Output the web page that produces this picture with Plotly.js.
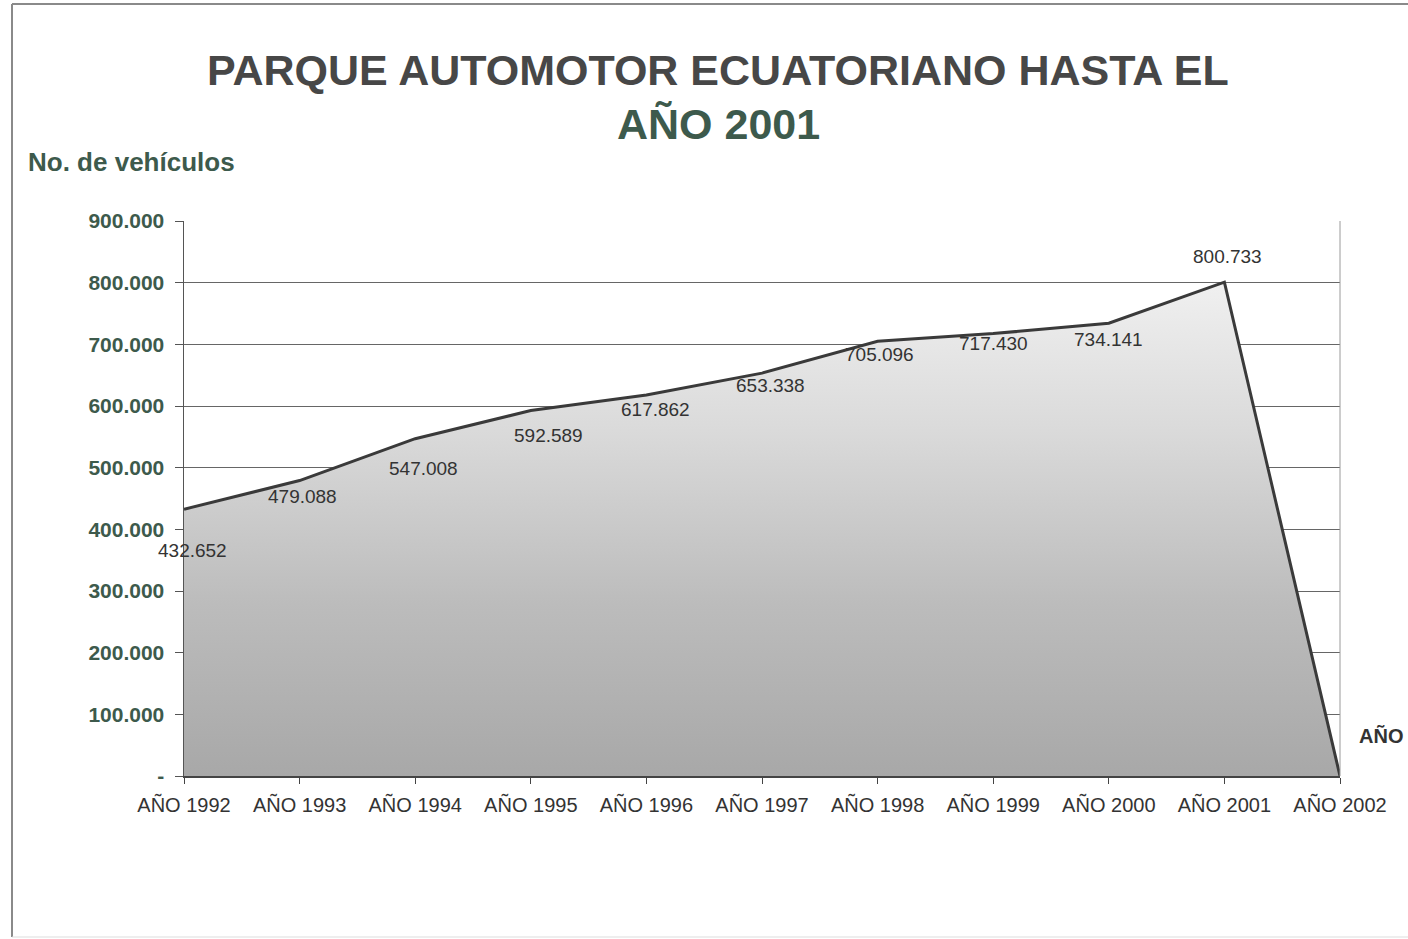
<!DOCTYPE html>
<html>
<head>
<meta charset="utf-8">
<script src="https://cdn.plot.ly/plotly-3.0.1.min.js"></script>
<style>html,body{margin:0;padding:0;background:#fff;}#chart{width:1408px;height:939px;}</style>
</head>
<body>
<div id="chart"></div>
<script>
// Data
const categories = ["AÑO 1992","AÑO 1993","AÑO 1994","AÑO 1995","AÑO 1996","AÑO 1997","AÑO 1998","AÑO 1999","AÑO 2000","AÑO 2001","AÑO 2002"];
const vehicles = [432652, 479088, 547008, 592589, 617862, 653338, 705096, 717430, 734141, 800733, 0];
const valueLabels = ["432.652","479.088","547.008","592.589","617.862","653.338","705.096","717.430","734.141","800.733",""];
const yTickVals = [0,100000,200000,300000,400000,500000,600000,700000,800000,900000];
const yTickText = ["-","100.000","200.000","300.000","400.000","500.000","600.000","700.000","800.000","900.000"];

// Label offsets (style only)
const labelShiftY = [-41,-16,-30,-25,-15,-12,-13,-10,-16,26,0];
const labelShiftX = [8,3,8,18,9,8,2,0,0,3,0];

const trace = {
  type: 'scatter',
  mode: 'lines',
  x: categories,
  y: vehicles,
  fill: 'tozeroy',
  fillgradient: {
    type: 'vertical',
    colorscale: [[0,'#a8a8a8'],[0.35,'#bcbcbc'],[0.7,'#dadada'],[1,'#f0f0f0']]
  },
  line: {color: '#3a3a3a', width: 3},
  hoverinfo: 'skip'
};

const FONT = 'Liberation Sans, Arial, sans-serif';
const annotations = [];
categories.forEach((c,i)=>{
  if (!valueLabels[i]) return;
  annotations.push({
    x: c, y: vehicles[i], xref:'x', yref:'y',
    text: valueLabels[i], showarrow:false,
    xanchor:'center', yanchor:'middle',
    xshift: labelShiftX[i], yshift: labelShiftY[i],
    font:{family:FONT, size:19, color:'#333333'}
  });
});
annotations.push({
  xref:'paper', yref:'paper', x:(26-184)/1156, y:(776-162)/555,
  xanchor:'left', yanchor:'middle', showarrow:false,
  text:'<b>No. de vehículos</b>',
  font:{family:FONT, size:26, color:'#3d5a4c'}
});
annotations.push({
  xref:'paper', yref:'paper', x:(1357-184)/1156, y:(776-736)/555,
  xanchor:'left', yanchor:'middle', showarrow:false,
  text:'<b>AÑO</b>',
  font:{family:FONT, size:20, color:'#333333'}
});
annotations.push({
  xref:'paper', yref:'paper', x:(718-184)/1156, y:(776-70)/555,
  xanchor:'center', yanchor:'middle', showarrow:false,
  text:'<b>PARQUE AUTOMOTOR ECUATORIANO HASTA EL</b>',
  font:{family:FONT, size:43, color:'#474747'}
});
annotations.push({
  xref:'paper', yref:'paper', x:(718-184)/1156, y:(776-124)/555,
  xanchor:'center', yanchor:'middle', showarrow:false,
  text:'<b>AÑO 2001</b>',
  font:{family:FONT, size:43, color:'#3d5a4c'}
});

const layout = {
  width: 1408, height: 939,
  margin: {l:184, r:68, t:221, b:163},
  paper_bgcolor: '#ffffff',
  plot_bgcolor: '#ffffff',
  showlegend: false,
  xaxis: {
    type: 'category',
    range: [0, 10],
    showgrid: false,
    showline: true, linecolor: '#444444', linewidth: 2,
    ticks: 'outside', ticklen: 6, tickcolor: '#444444', tickwidth: 1,
    ticklabelstandoff: 4,
    tickfont: {family:FONT, size:20, color:'#333333'},
    zeroline: false,
    fixedrange: true
  },
  yaxis: {
    range: [0, 900000],
    tickvals: yTickVals, ticktext: yTickText,
    showgrid: true, gridcolor: '#666666', gridwidth: 1,
    showline: true, linecolor: '#555555', linewidth: 1.5, mirror: false,
    ticks: 'outside', ticklen: 8, tickcolor: '#555555',
    ticklabelstandoff: 6,
    tickfont: {family:FONT, size:21, color:'#3d5a4c', weight:'bold'},
    zeroline: false,
    fixedrange: true
  },
  shapes: [
    {type:'line', xref:'paper', yref:'paper', x0:1, x1:1, y0:0, y1:1, line:{color:'#9a9a9a', width:1}},
    {type:'line', xref:'paper', yref:'paper', x0:(12-184)/1156, x1:(12-184)/1156, y0:(776-937)/555, y1:(776-4)/555, line:{color:'#8a8a8a', width:2}},
    {type:'line', xref:'paper', yref:'paper', x0:(12-184)/1156, x1:(1408-184)/1156, y0:(776-4)/555, y1:(776-4)/555, line:{color:'#8a8a8a', width:2}},
    {type:'line', xref:'paper', yref:'paper', x0:(12-184)/1156, x1:(1408-184)/1156, y0:(776-937)/555, y1:(776-937)/555, line:{color:'#dddddd', width:1}}
  ],
  annotations: annotations
};

Plotly.newPlot('chart', [trace], layout, {displayModeBar:false, staticPlot:true});
</script>
</body>
</html>
